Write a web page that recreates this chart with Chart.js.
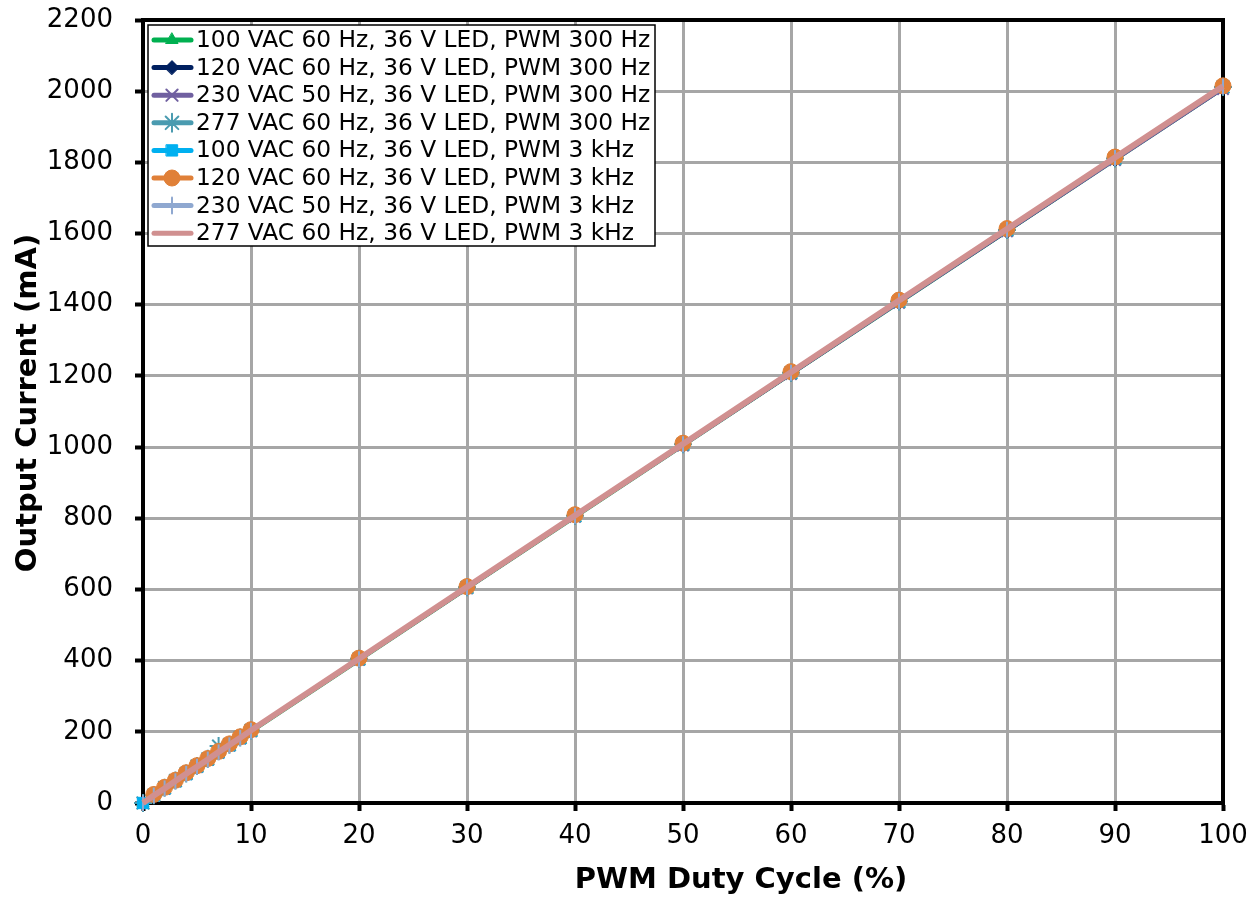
<!DOCTYPE html>
<html>
<head>
<meta charset="utf-8">
<script src="https://cdn.jsdelivr.net/npm/chart.js@4.4.0/dist/chart.umd.min.js"></script>
<style>
  html, body { margin: 0; padding: 0; background: #fff; }
  #wrap { width: 1257px; height: 901px; }
</style>
</head>
<body>
<div id="wrap"><canvas id="myChart"></canvas></div>
<script>
// duty cycle points (%)
var duty = [0, 1, 2, 3, 4, 5, 6, 7, 8, 9, 10, 20, 30, 40, 50, 60, 70, 80, 90, 100];

// output current (mA)
var ac100_300 = [0, 19, 39, 59, 79, 99, 119, 139, 159, 179, 199, 400, 601, 802, 1003, 1204, 1404, 1605, 1806, 2006];
var ac120_300 = [0, 20, 40, 60, 80, 100, 120, 141, 161, 181, 201, 402, 603, 804, 1005, 1205, 1406, 1606, 1807, 2007];
var ac230_300 = [0, 20, 40, 61, 81, 101, 121, 141, 161, 181, 201, 402, 603, 804, 1004, 1205, 1405, 1606, 1806, 2006];
var ac277_300 = [0, 22, 43, 63, 83, 104, 124, 160, 164, 184, 204, 405, 606, 807, 1008, 1209, 1409, 1610, 1811, 2012];
var ac100_3k = [0, 21, 41, 61, 81, 102, 122, 142, 162, 182, 203, 404, 606, 807, 1008, 1209, 1410, 1611, 1812, 2012];
var ac120_3k = [null, 24, 44, 64, 85, 105, 125, 145, 166, 186, 206, 407, 608, 810, 1011, 1212, 1413, 1614, 1815, 2015];
var ac230_3k = [0, 21, 41, 61, 82, 102, 122, 142, 162, 183, 203, 404, 606, 807, 1008, 1209, 1410, 1611, 1812, 2013];
var ac277_3k = [0, 21, 41, 62, 82, 102, 122, 143, 163, 183, 204, 405, 607, 808, 1009, 1210, 1412, 1613, 1814, 2014];

var seriesNames = [
  '100 VAC 60 Hz, 36 V LED, PWM 300 Hz',
  '120 VAC 60 Hz, 36 V LED, PWM 300 Hz',
  '230 VAC 50 Hz, 36 V LED, PWM 300 Hz',
  '277 VAC 60 Hz, 36 V LED, PWM 300 Hz',
  '100 VAC 60 Hz, 36 V LED, PWM 3 kHz',
  '120 VAC 60 Hz, 36 V LED, PWM 3 kHz',
  '230 VAC 50 Hz, 36 V LED, PWM 3 kHz',
  '277 VAC 60 Hz, 36 V LED, PWM 3 kHz'
];
var seriesValues = [ac100_300, ac120_300, ac230_300, ac277_300, ac100_3k, ac120_3k, ac230_3k, ac277_3k];
var seriesColors = ['#00b050', '#002060', '#7060a0', '#4a9bb0', '#00b0f0', '#e08038', '#8fa8d0', '#d09090'];
var markers = ['triangle', 'rectRot', 'crossRot', 'star', 'rect', 'circle', 'line', false];
var markerSize = [7, 7, 8, 9, 8, 8, 8, 0];
var lineWidths = [3, 3, 3, 3, 3, 3, 4, 6];

var yTicks = [0, 200, 400, 600, 800, 1000, 1200, 1400, 1600, 1800, 2000, 2200];
var xTicks = [0, 10, 20, 30, 40, 50, 60, 70, 80, 90, 100];

var thinMark = function (m) { return m == 'crossRot' || m == 'star' || m == 'line'; };

var datasets = seriesNames.map(function (name, i) {
  return {
    label: name,
    data: duty.map(function (d, j) { return { x: d, y: seriesValues[i][j] }; }),
    borderColor: seriesColors[i],
    backgroundColor: seriesColors[i],
    borderWidth: lineWidths[i],
    pointStyle: markers[i],
    pointRadius: markerSize[i],
    pointBorderWidth: thinMark(markers[i]) ? 2 : 1,
    pointRotation: markers[i] == 'line' ? 90 : 0,
    tension: 0,
    clip: false,
    order: 8 - i
  };
});

// legend box inside the plot, top-left
var boxLegend = {
  id: 'boxLegend',
  afterDraw: function (chart) {
    var c = chart.ctx;
    c.save();
    var x0 = 148, y0 = 25, w = 507, h = 221;
    c.fillStyle = '#fff';
    c.fillRect(x0, y0, w, h);
    c.strokeStyle = '#000';
    c.lineWidth = 1.5;
    c.strokeRect(x0, y0, w, h);
    c.font = '23.3px "DejaVu Sans"';
    c.textBaseline = 'middle';
    for (var i = 0; i < seriesNames.length; i++) {
      var cy = 40 + i * 27.6;
      c.strokeStyle = seriesColors[i];
      c.fillStyle = seriesColors[i];
      c.lineWidth = 5;
      c.lineCap = 'round';
      c.beginPath();
      c.moveTo(154, cy);
      c.lineTo(191, cy);
      c.stroke();
      if (markers[i]) {
        c.lineWidth = thinMark(markers[i]) ? 2 : 1;
        Chart.helpers.drawPoint(c, { pointStyle: markers[i], radius: markerSize[i], rotation: markers[i] == 'line' ? 90 : 0, borderWidth: c.lineWidth }, 172, cy);
      }
      c.fillStyle = '#000';
      c.fillText(seriesNames[i], 196, cy + 1);
    }
    c.restore();
  }
};

// black frame round the plot (under the marks) and the axis titles
var frame = {
  id: 'frame',
  beforeDatasetsDraw: function (chart) {
    var a = chart.chartArea, c = chart.ctx;
    c.save();
    c.strokeStyle = '#000';
    c.lineWidth = 4;
    c.strokeRect(a.left, a.top, a.right - a.left, a.bottom - a.top);
    c.restore();
  },
  afterDraw: function (chart) {
    var c = chart.ctx;
    c.save();
    c.fillStyle = '#000';
    c.font = 'bold 29px "DejaVu Sans"';
    c.textAlign = 'center';
    c.textBaseline = 'middle';
    c.fillText('PWM Duty Cycle (%)', 741, 880);
    c.translate(28, 403);
    c.rotate(-Math.PI / 2);
    c.fillText('Output Current (mA)', 0, 0);
    c.restore();
  }
};

var ctx = document.getElementById('myChart').getContext('2d');
var chart = new Chart(ctx, {
  type: 'line',
  data: { datasets: datasets },
  options: {
    responsive: true,
    maintainAspectRatio: false,
    animation: false,
    layout: { padding: { top: 20, right: 34, left: 0, bottom: 0 } },
    plugins: { legend: { display: false }, tooltip: { enabled: false } },
    scales: {
      x: {
        type: 'linear',
        min: 0,
        max: 100,
        afterBuildTicks: function (s) { s.ticks = xTicks.map(function (v) { return { value: v }; }); },
        afterFit: function (s) { s.height = 98; s.paddingLeft = 0; s.paddingRight = 0; },
        grid: { color: '#a6a6a6', lineWidth: 3, tickColor: '#000', tickWidth: 4, tickLength: 8 },
        border: { color: '#000', width: 4 },
        ticks: { color: '#000', font: { family: 'DejaVu Sans', size: 26 }, padding: 10, maxRotation: 0,
                 callback: function (v) { return String(v); } }
      },
      y: {
        type: 'linear',
        min: 0,
        max: 2200,
        afterBuildTicks: function (s) { s.ticks = yTicks.map(function (v) { return { value: v }; }); },
        afterFit: function (s) { s.width = 143; s.paddingTop = 0; s.paddingBottom = 0; },
        grid: { color: '#a6a6a6', lineWidth: 3, tickColor: '#000', tickWidth: 4, tickLength: 8 },
        border: { color: '#000', width: 4 },
        ticks: { color: '#000', font: { family: 'DejaVu Sans', size: 26 }, padding: 22,
                 callback: function (v) { return String(v); } }
      }
    }
  },
  plugins: [frame, boxLegend]
});
</script>
</body>
</html>
